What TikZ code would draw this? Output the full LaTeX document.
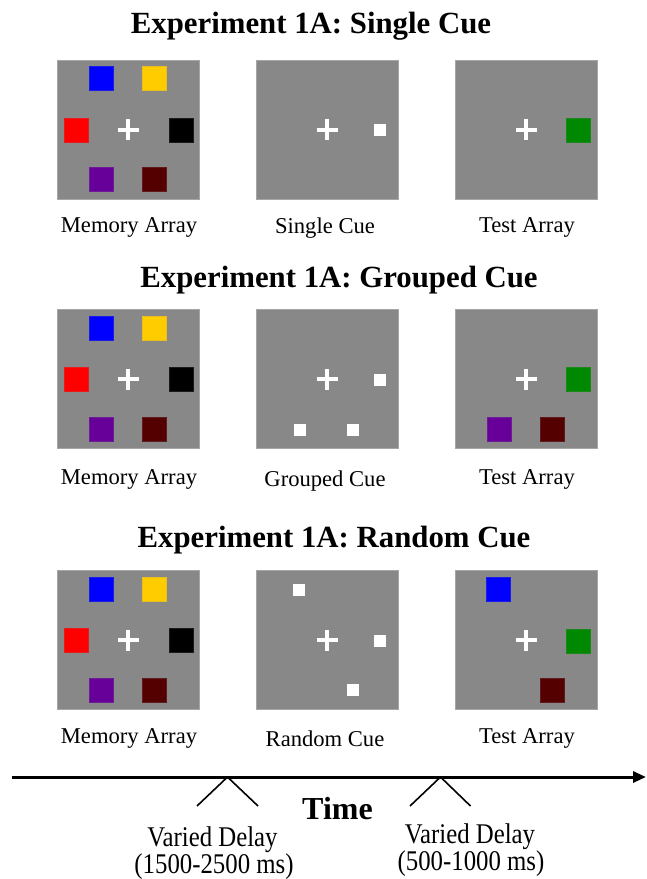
\documentclass[tikz,border=0pt]{standalone}
\usepackage{fontspec}
\setmainfont{Liberation Serif}
\usetikzlibrary{arrows.meta}
\definecolor{panelgray}{RGB}{136,136,136}
\definecolor{cblue}{RGB}{0,0,255}
\definecolor{cyellow}{RGB}{255,204,0}
\definecolor{cred}{RGB}{255,0,0}
\definecolor{cpurple}{RGB}{102,0,153}
\definecolor{cdarkred}{RGB}{85,0,0}
\definecolor{cgreen}{RGB}{0,136,0}
\tikzset{
  panel/.style={fill=panelgray, draw=panelgray!75!white, line width=0.8, minimum width=142, minimum height=139, inner sep=0},
  csq/.style={minimum size=24, inner sep=0, draw=#1!80!panelgray, line width=0.5, fill=#1},
  wsq/.style={minimum size=12.5, inner sep=0, fill=white},
  crossline/.style={white, line width=4},
  title/.style={font=\fontsize{30.8}{36}\selectfont\bfseries, inner sep=0, anchor=base},
  lbl/.style={font=\fontsize{22.6}{27}\selectfont, inner sep=0, anchor=base},
  delay/.style={font=\fontsize{24.8}{28}\selectfont, inner sep=0, anchor=base},
  timeline/.style={line width=3, -{Triangle[length=13, width=11]}},
  tick/.style={line width=1.6}
}
\begin{document}
\begin{tikzpicture}[x=1pt,y=-1pt]
\useasboundingbox (0,0) rectangle (647,879);
% titles
\node[title] (t1) at (311,33.3) {Experiment 1A: Single Cue};
\node[title] (t2) at (339,287.3) {Experiment 1A: Grouped Cue};
\node[title] (t3) at (334,547.3) {Experiment 1A: Random Cue};
% panels
\foreach \r/\y in {1/129.5,2/379,3/640}{
  \node[panel] (p\r1) at (128,\y) {};
  \node[panel] (p\r2) at (327,\y) {};
  \node[panel] (p\r3) at (526,\y) {};
}
% crosses
\foreach \p in {p11,p12,p13,p21,p22,p23,p31,p32,p33}{
  \draw[crossline] ([xshift=-10.5pt]\p.center) -- ([xshift=10.5pt]\p.center);
  \draw[crossline] ([yshift=-10.5pt]\p.center) -- ([yshift=10.5pt]\p.center);
}
% memory arrays
\foreach \r in {1,2,3}{
  \node[csq=cblue] (mb\r) at ([shift={(-27,-51)}]p\r1.center) {};
  \node[csq=cyellow] (my\r) at ([shift={(26,-51)}]p\r1.center) {};
  \node[csq=cred] (mr\r) at ([shift={(-52,0.5)}]p\r1.center) {};
  \node[csq=black] (mk\r) at ([shift={(53,0.5)}]p\r1.center) {};
  \node[csq=cpurple] (mp\r) at ([shift={(-27,50)}]p\r1.center) {};
  \node[csq=cdarkred] (md\r) at ([shift={(26,50)}]p\r1.center) {};
}
% row 1 cue and test
\node[wsq] (c1a) at ([shift={(53,0.5)}]p12.center) {};
\node[csq=cgreen] (g1) at ([shift={(52.5,0.5)}]p13.center) {};
% row 2 cue and test
\node[wsq] (c2a) at ([shift={(53,1)}]p22.center) {};
\node[wsq] (c2b) at ([shift={(-27,51)}]p22.center) {};
\node[wsq] (c2c) at ([shift={(26,51)}]p22.center) {};
\node[csq=cgreen] (g2) at ([shift={(52.5,0.5)}]p23.center) {};
\node[csq=cpurple] (tp2) at ([shift={(-27,50)}]p23.center) {};
\node[csq=cdarkred] (td2) at ([shift={(26,50)}]p23.center) {};
% row 3 cue and test
\node[wsq] (c3a) at ([shift={(-28,-50)}]p32.center) {};
\node[wsq] (c3b) at ([shift={(53,1)}]p32.center) {};
\node[wsq] (c3c) at ([shift={(26,50)}]p32.center) {};
\node[csq=cblue] (tb3) at ([shift={(-28,-51)}]p33.center) {};
\node[csq=cgreen] (g3) at ([shift={(52.5,1)}]p33.center) {};
\node[csq=cdarkred] (td3) at ([shift={(26,50)}]p33.center) {};
% labels
\node[lbl] (l11) at (129,232.5) {Memory Array};
\node[lbl] (l12) at (325,233.5) {Single Cue};
\node[lbl] (l13) at (527,232.5) {Test Array};
\node[lbl] (l21) at (129,484) {Memory Array};
\node[lbl] (l22) at (325,486.5) {Grouped Cue};
\node[lbl] (l23) at (527,484) {Test Array};
\node[lbl] (l31) at (129,743.5) {Memory Array};
\node[lbl] (l32) at (325,746.5) {Random Cue};
\node[lbl] (l33) at (527,743.5) {Test Array};
% timeline
\coordinate (ts) at (12,777);
\coordinate (te) at (646,777);
\draw[timeline] (ts) -- (te);
\coordinate (k1) at (227.5,777);
\coordinate (k1l) at (197,806);
\coordinate (k1r) at (258,806);
\coordinate (k2) at (440.5,777);
\coordinate (k2l) at (410,806);
\coordinate (k2r) at (470.5,806);
\draw[tick] (k1l) -- (k1) -- (k1r);
\draw[tick] (k2l) -- (k2) -- (k2r);
\node[title, font=\fontsize{32}{36}\selectfont\bfseries] (time) at (337.5,819.3) {Time};
\node[delay] (d1a) at (212.5,846.5) {\scalebox{1}[1.15]{Varied Delay}};
\node[delay] (d1b) at (214,873) {\scalebox{1}[1.15]{(1500-2500 ms)}};
\node[delay] (d2a) at (470,843.5) {\scalebox{1}[1.15]{Varied Delay}};
\node[delay] (d2b) at (471,870.5) {\scalebox{1}[1.15]{(500-1000 ms)}};
\end{tikzpicture}
\end{document}
